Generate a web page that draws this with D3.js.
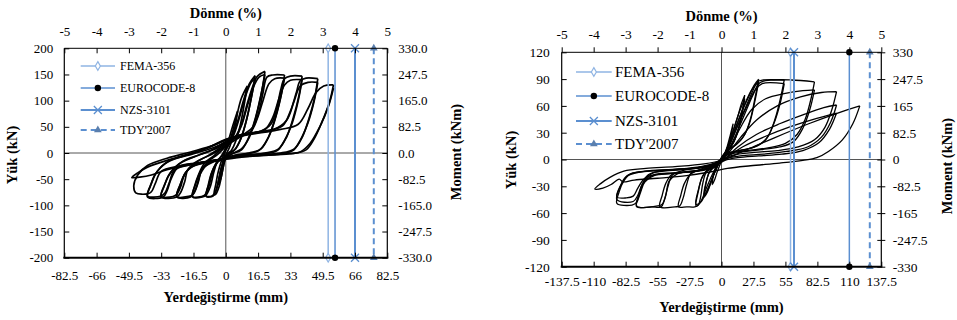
<!DOCTYPE html>
<html>
<head>
<meta charset="utf-8">
<script src="https://cdn.jsdelivr.net/npm/d3@7"></script>
<style>
  body { margin: 0; background: #fff; }
  svg, svg text { font-family: "Liberation Serif", "Times New Roman", serif; }
</style>
</head>
<body>
<svg id="chart" width="957" height="320"></svg>
<script>
// ---- data: displacement (mm), load (kN) ----
const driftTicks = [-5, -4, -3, -2, -1, 0, 1, 2, 3, 4, 5];

const dispTicksA = [-82.5, -66, -49.5, -33, -16.5, 0, 16.5, 33, 49.5, 66, 82.5];
const dispLabelsA = ["-82.5", "-66", "-49.5", "-33", "-16.5", "0", "16.5", "33", "49.5", "66", "82.5"];
const loadTicksA = [-200, -150, -100, -50, 0, 50, 100, 150, 200];
const momentTicks = [-330, -247.5, -165, -82.5, 0, 82.5, 165, 247.5, 330];
const momentLabelsA = ["-330.0", "-247.5", "-165.0", "-82.5", "0.0", "82.5", "165.0", "247.5", "330.0"];

const dispTicksB = [-137.5, -110, -82.5, -55, -27.5, 0, 27.5, 55, 82.5, 110, 137.5];
const dispLabelsB = ["-137.5", "-110", "-82.5", "-55", "-27.5", "0", "27.5", "55", "82.5", "110", "137.5"];
const loadTicksB = [-120, -90, -60, -30, 0, 30, 60, 90, 120];
const momentLabelsB = ["-330", "-247.5", "-165", "-82.5", "0", "82.5", "165", "247.5", "330"];

const limitNames = ["FEMA-356", "EUROCODE-8", "NZS-3101", "TDY'2007"];
const limitsA = [52.3, 55.8, 66, 75.6];     // mm
const limitsB = [59.4, 110, 62.4, 127.6];   // mm

// hysteresis loops, left specimen
const loopsA = [
  [[6,80],[5,55],[3.5,30],[2,12],[0.5,0],[-0.5,-12],[-1.5,-30],[-2.5,-48],[-4,-60],[-3,-42],[-2,-25],[-1,-8],[0,8],[1.5,25],[3,45],[4.5,63],[6,80]],
  [[11,128],[9.5,95],[7.5,55],[5,22],[3,6],[1,-2],[-0.5,-15],[-2,-40],[-3.5,-65],[-5,-78],[-6,-80],[-5,-58],[-4,-38],[-2.5,-18],[-1,-2],[1,14],[3,35],[5.5,70],[8,105],[11,128]],
  [[15,148],[13.5,115],[11,70],[8,30],[5,8],[2,0],[0,-8],[-2,-25],[-3.5,-50],[-5,-72],[-6.5,-82],[-10,-83],[-9,-62],[-7.5,-40],[-5,-20],[-2,-5],[0,10],[3,30],[6,60],[9,100],[12,132],[15,148]],
  [[15,142],[13,105],[10.5,62],[7.5,26],[4.5,6],[1.5,-2],[-0.5,-12],[-2.5,-32],[-4,-58],[-5.5,-76],[-7,-82],[-10,-82],[-8.5,-58],[-7,-36],[-4.5,-17],[-1.5,-2],[1,12],[4,34],[7,68],[10,108],[13,135],[15,142]],
  [[20,156],[18.5,120],[15.5,70],[12,30],[8,8],[4,0],[0,-8],[-4,-15],[-6,-35],[-8,-65],[-10,-80],[-12,-84],[-17,-84],[-16,-64],[-14,-42],[-11,-20],[-6,-5],[0,15],[5,32],[8,55],[11,95],[14,130],[16,146],[20,156]],
  [[20,150],[18,112],[15,65],[11.5,28],[8,6],[3,-2],[0,-10],[-4,-17],[-7,-40],[-9,-68],[-11,-81],[-17,-83],[-15.5,-60],[-13,-36],[-9,-16],[-4,-2],[1,16],[5,30],[8,52],[11,90],[14,125],[17,145],[20,150]],
  [[30,149],[28.5,115],[25.5,70],[22,32],[18,8],[12,0],[5,-4],[0,-10],[-7,-18],[-12,-30],[-14,-55],[-16,-75],[-18,-84],[-25,-84],[-23.5,-63],[-21,-40],[-16,-19],[-9,-5],[-2,12],[4,28],[10,38],[14,50],[17,80],[19,115],[21,145],[24,149],[30,149]],
  [[30,143],[28,105],[25,62],[21.5,28],[17,5],[10,-2],[3,-6],[-2,-12],[-9,-20],[-13,-40],[-15,-65],[-17,-80],[-19,-83],[-25,-83],[-23,-58],[-20,-35],[-14,-15],[-6,0],[1,16],[8,32],[13,42],[16,65],[19,100],[22,132],[25,142],[30,143]],
  [[39,147],[37.5,112],[34.5,68],[31,30],[27,8],[20,0],[10,-4],[2,-8],[-4,-13],[-12,-20],[-19,-30],[-21,-55],[-23,-75],[-25,-84],[-33,-84],[-31.5,-64],[-29,-42],[-24,-21],[-16,-7],[-7,6],[0,22],[8,35],[18,42],[23,55],[26,85],[28,120],[30,142],[33,147],[39,147]],
  [[39,140],[37,100],[34,58],[30,24],[26,4],[18,-2],[8,-5],[0,-10],[-8,-16],[-16,-24],[-21,-40],[-23,-64],[-25,-79],[-27,-83],[-33,-83],[-31,-58],[-28,-36],[-22,-16],[-13,-3],[-4,10],[2,24],[12,37],[20,45],[24,68],[27,102],[30,130],[33,139],[39,140]],
  [[47,142],[45.5,108],[42.5,66],[39,30],[35,8],[28,0],[16,-3],[5,-7],[-3,-12],[-14,-19],[-24,-26],[-28,-50],[-30,-72],[-32,-84],[-40,-84],[-38.5,-63],[-36,-40],[-31,-20],[-22,-6],[-12,6],[-2,22],[8,35],[20,42],[29,52],[33,80],[36,115],[38,138],[41,143],[47,142]],
  [[47,135],[45,97],[42,58],[38,24],[34,4],[26,-2],[14,-5],[4,-8],[-4,-13],[-16,-21],[-26,-32],[-29,-58],[-31,-76],[-33,-82],[-40,-82],[-38,-58],[-35,-35],[-29,-15],[-19,-2],[-9,10],[0,26],[12,37],[24,44],[31,62],[35,100],[38,128],[42,135],[47,135]],
  [[55,130],[53,98],[49,58],[45,26],[41,6],[34,-1],[22,-4],[10,-7],[0,-12],[-12,-18],[-24,-25],[-33,-35],[-36,-58],[-38,-74],[-40,-78],[-46,-76],[-47,-62],[-45,-42],[-40,-24],[-30,-10],[-18,2],[-6,15],[2,28],[15,37],[28,45],[37,55],[42,85],[46,115],[50,128],[55,130]],
  [[55,124],[52.5,90],[48,50],[43,18],[38,2],[28,-2],[15,-5],[4,-9],[-6,-14],[-18,-22],[-30,-32],[-38,-42],[-44,-46],[-48,-47],[-45,-38],[-40,-27],[-30,-14],[-18,-3],[-8,8],[0,20]]
];

// hysteresis loops, right specimen
const loopsB = [
  [[10,40],[8.5,28],[6.5,15],[4,7],[1.5,2],[0,-2],[-2,-8],[-4,-15],[-6,-23],[-8,-28],[-7,-18],[-5.5,-10],[-3,-5],[0,0],[2.5,6],[5,15],[7.5,27],[10,40]],
  [[20,72],[17.5,52],[14,32],[10,18],[5,10],[1,3],[-2,-4],[-5,-12],[-9,-25],[-12,-36],[-15,-42],[-13.5,-28],[-11,-16],[-7,-9],[-2,-4],[2,4],[6,16],[10,32],[14,48],[17,62],[20,72]],
  [[20,68],[17,46],[13,27],[9,16],[4,9],[0,2],[-3,-6],[-7,-18],[-11,-32],[-15,-40],[-13,-24],[-10,-13],[-6,-8],[-1,-2],[3,6],[7,20],[11,36],[15,52],[20,68]],
  [[32,90],[29,70],[25,46],[20,28],[13,17],[6,11],[1,4],[-3,-5],[-8,-17],[-13,-32],[-17,-45],[-20,-51],[-22,-52],[-20,-36],[-17,-21],[-12,-11],[-5,-5],[1,3],[6,16],[12,35],[18,55],[24,72],[28,83],[32,90]],
  [[32,87],[28.5,64],[24,40],[18,24],[11,15],[4,9],[0,2],[-4,-9],[-9,-24],[-14,-39],[-18,-48],[-22,-50],[-19.5,-32],[-16,-18],[-10,-10],[-3,-4],[2,5],[8,22],[14,42],[20,62],[26,78],[32,87]],
  [[54,89],[51,70],[46,45],[40,26],[32,16],[20,11],[8,8],[2,4],[-2,-4],[-8,-10],[-13,-14],[-16,-26],[-18,-42],[-20,-51],[-23,-53],[-30,-53],[-37,-53],[-35,-40],[-32,-27],[-27,-17],[-18,-11],[-8,-7],[0,0],[5,12],[12,32],[20,56],[27,77],[31,87],[36,89],[54,89]],
  [[54,85],[50.5,63],[45,40],[38,22],[28,14],[15,10],[5,7],[0,1],[-5,-7],[-15,-12],[-26,-15],[-30,-28],[-33,-43],[-36,-52],[-40,-53],[-53,-53],[-51,-40],[-48,-27],[-43,-17],[-32,-12],[-18,-9],[-6,-5],[1,2],[7,16],[14,38],[22,60],[29,78],[35,85],[54,85]],
  [[80,87],[77,68],[72,45],[65,28],[55,18],[40,13],[22,10],[8,7],[1,2],[-4,-6],[-16,-11],[-32,-14],[-42,-17],[-46,-30],[-49,-45],[-52,-53],[-60,-53],[-73,-53],[-71,-40],[-68,-27],[-63,-17],[-50,-13],[-30,-11],[-12,-8],[-2,-3],[4,6],[11,24],[19,48],[27,72],[33,86],[45,89],[60,89],[80,87]],
  [[80,78],[76,56],[70,35],[62,20],[50,14],[34,11],[16,8],[5,5],[-1,-2],[-9,-9],[-22,-13],[-38,-16],[-45,-24],[-48,-40],[-51,-50],[-55,-52],[-73,-52],[-70,-36],[-66,-23],[-59,-15],[-45,-12],[-25,-10],[-8,-6],[1,0],[8,14],[16,35],[26,56],[38,68],[55,74],[70,77],[80,78]],
  [[99,76],[95,56],[89,36],[80,22],[66,14],[48,10],[28,8],[10,5],[2,1],[-6,-8],[-22,-13],[-40,-15],[-58,-17],[-66,-25],[-70,-38],[-73,-48],[-77,-51],[-90,-49],[-88,-36],[-84,-24],[-78,-16],[-62,-13],[-40,-11],[-18,-8],[-4,-3],[5,6],[16,24],[30,44],[48,60],[68,70],[86,75],[99,76]],
  [[99,61],[94,42],[86,25],[74,14],[56,9],[36,6],[16,4],[4,1],[-4,-6],[-18,-12],[-38,-15],[-58,-18],[-68,-28],[-72,-40],[-76,-47],[-90,-45],[-87,-30],[-82,-19],[-70,-14],[-48,-12],[-25,-10],[-8,-6],[2,0],[14,14],[30,28],[50,40],[70,50],[88,58],[99,61]],
  [[99,52],[93,34],[84,19],[70,10],[52,6],[32,4],[14,2],[3,-1],[-6,-8],[-22,-13],[-45,-16],[-65,-20],[-72,-32],[-76,-41],[-82,-43],[-90,-42],[-86,-27],[-80,-17],[-66,-13],[-42,-11],[-20,-9],[-5,-5],[4,2],[18,14],[38,26],[60,37],[82,46],[99,52]],
  [[119,60],[113,40],[104,22],[92,9],[82,2],[70,-1],[50,-4],[25,-7],[5,-10],[-10,-14],[-30,-18],[-55,-21],[-75,-23],[-85,-25],[-88,-22],[-95,-28],[-102,-32],[-109,-33],[-104,-27],[-96,-20],[-84,-13],[-65,-10],[-40,-8],[-15,-5],[2,0],[20,10],[45,24],[75,40],[100,52],[119,60]]
];

// ---- drawing ----
const FONT = "'Liberation Serif', 'Times New Roman', serif";
const svg = d3.select("#chart");

const limitStyles = [
  { color: "#8fb4e3", width: 1.5, dash: null, marker: "diamond" },
  { color: "#5b8fd0", width: 1.5, dash: null, marker: "circle" },
  { color: "#5b8fd0", width: 2, dash: null, marker: "x" },
  { color: "#5b8fd0", width: 2, dash: "6,4", marker: "triangle" }
];

function drawMarker(g, type, cx, cy, st) {
  if (type === "diamond") {
    g.append("path").attr("d", d3.symbol(d3.symbolDiamond, 22)())
      .attr("transform", `translate(${cx},${cy})`)
      .attr("fill", "#fff").attr("stroke", st.color).attr("stroke-width", 1.2);
  } else if (type === "circle") {
    g.append("circle").attr("cx", cx).attr("cy", cy).attr("r", 3.2).attr("fill", "#000");
  } else if (type === "x") {
    g.append("path").attr("d", "M-4,-4L4,4M-4,4L4,-4")
      .attr("transform", `translate(${cx},${cy})`)
      .attr("stroke", st.color).attr("stroke-width", 1.3).attr("fill", "none");
  } else {
    g.append("path").attr("d", d3.symbol(d3.symbolTriangle, 26)())
      .attr("transform", `translate(${cx},${cy})`)
      .attr("fill", "#5a7fae");
  }
}

function addAxis(g, orient, scale, vals, labels, tin, tout, gap, fs, tr) {
  const ax = d3[orient](scale).tickValues(vals).tickFormat((d, i) => labels[i])
    .tickSize(0).tickSizeOuter(0).tickPadding(gap);
  const a = g.append("g").attr("transform", tr).call(ax);
  a.attr("font-family", null).attr("font-size", fs);
  a.select(".domain").remove();
  const k = (orient === "axisTop" || orient === "axisLeft") ? -1 : 1;
  const vert = (orient === "axisLeft" || orient === "axisRight");
  a.selectAll(".tick line")
    .attr(vert ? "x1" : "y1", -k * tin)
    .attr(vert ? "x2" : "y2", k * tout)
    .attr("stroke", "#000");
  a.selectAll("text").attr("fill", "#000").style("font-family", FONT);
}

function label(g, txt, x, y, fs, bold, rot) {
  const t = g.append("text").attr("text-anchor", "middle")
    .attr("font-size", fs).style("font-family", FONT).attr("fill", "#000")
    .attr("font-weight", bold ? "bold" : null).text(txt);
  if (rot) t.attr("transform", `translate(${x},${y}) rotate(-90)`);
  else t.attr("x", x).attr("y", y);
  return t;
}

function drawPanel(p) {
  const g = svg.append("g");
  const x = d3.scaleLinear().domain([-p.xMax, p.xMax]).range([p.x0, p.x1]);
  const xd = d3.scaleLinear().domain([-5, 5]).range([p.x0, p.x1]);
  const y = d3.scaleLinear().domain([-p.yMax, p.yMax]).range([p.y1, p.y0]);
  const ym = d3.scaleLinear().domain([-330, 330]).range([p.y1, p.y0]);

  // zero lines
  g.append("line").attr("x1", x(0)).attr("x2", x(0)).attr("y1", p.y0).attr("y2", p.y1)
    .attr("stroke", "#555").attr("stroke-width", 1);
  g.append("line").attr("x1", p.x0).attr("x2", p.x1).attr("y1", y(0)).attr("y2", y(0))
    .attr("stroke", "#555").attr("stroke-width", 1);

  // loops
  const line = d3.line().x(d => x(d[0])).y(d => y(d[1])).curve(d3.curveCatmullRom.alpha(0.5));
  g.selectAll("path.loop").data(p.loops).join("path").attr("class", "loop")
    .attr("d", line).attr("fill", "none").attr("stroke", "#000")
    .attr("stroke-width", p.loopW).attr("stroke-linejoin", "round");

  // limit lines
  p.limits.forEach((mm, i) => {
    const st = limitStyles[i];
    const lx = x(mm);
    g.append("line").attr("x1", lx).attr("x2", lx).attr("y1", p.y0).attr("y2", p.y1)
      .attr("stroke", st.color).attr("stroke-width", st.width)
      .attr("stroke-dasharray", st.dash);
    drawMarker(g, st.marker, lx, p.y0, st);
    drawMarker(g, st.marker, lx, p.y1, st);
  });

  // frame
  const fr = g.append("g").attr("stroke", "#000");
  fr.append("line").attr("x1", p.x0).attr("x2", p.x1).attr("y1", p.y0).attr("y2", p.y0).attr("stroke-width", 1);
  fr.append("line").attr("x1", p.x0).attr("x2", p.x0).attr("y1", p.y0).attr("y2", p.y1).attr("stroke-width", 1.2);
  fr.append("line").attr("x1", p.x1).attr("x2", p.x1).attr("y1", p.y0).attr("y2", p.y1).attr("stroke-width", 1.2);
  fr.append("line").attr("x1", p.x0 - 1).attr("x2", p.x1 + 1).attr("y1", p.y1).attr("y2", p.y1).attr("stroke-width", 2);

  // axes
  addAxis(g, "axisBottom", x, p.xTicks, p.xLabels, p.tk.b[0], p.tk.b[1], p.gap.b, p.fs, `translate(0,${p.y1})`);
  addAxis(g, "axisTop", xd, driftTicks, driftTicks.map(String), p.tk.t[0], p.tk.t[1], p.gap.t, p.fs, `translate(0,${p.y0})`);
  addAxis(g, "axisLeft", y, p.yTicks, p.yTicks.map(String), p.tk.l[0], p.tk.l[1], p.gap.l, p.fs, `translate(${p.x0},0)`);
  addAxis(g, "axisRight", ym, momentTicks, p.mLabels, p.tk.r[0], p.tk.r[1], p.gap.r, p.fs, `translate(${p.x1},0)`);

  // titles
  const cx = (p.x0 + p.x1) / 2;
  label(g, "Dönme (%)", cx, p.topTitleY, 14.5, true, false);
  label(g, "Yerdeğiştirme (mm)", cx, p.botTitleY, 14.5, true, false);
  label(g, "Yük (kN)", p.yTitleX, p.yTitleY, 14.5, true, true);
  label(g, "Moment (kNm)", p.mTitleX, p.mTitleY, 14.5, true, true);

  // legend
  limitNames.forEach((name, i) => {
    const st = limitStyles[i];
    const ly = p.leg.y[i];
    g.append("line").attr("x1", p.leg.x0).attr("x2", p.leg.x1).attr("y1", ly).attr("y2", ly)
      .attr("stroke", st.color).attr("stroke-width", st.width).attr("stroke-dasharray", st.dash);
    drawMarker(g, st.marker, (p.leg.x0 + p.leg.x1) / 2, ly, st);
    g.append("text").attr("x", p.leg.tx).attr("y", ly).attr("dy", "0.35em")
      .attr("font-size", p.leg.fs).style("font-family", FONT).text(name);
  });
}

drawPanel({
  x0: 64.3, x1: 387.3, y0: 48.3, y1: 257.7,
  xMax: 82.5, yMax: 200,
  xTicks: dispTicksA, xLabels: dispLabelsA, yTicks: loadTicksA, mLabels: momentLabelsA,
  loops: loopsA, limits: limitsA, loopW: 1.7, fs: 13,
  tk: { b: [5, 0], t: [5, 0], l: [5, 0], r: [5, 0] },
  gap: { b: 12.8, t: 12, l: 11, r: 11 },
  topTitleY: 18, botTitleY: 302, yTitleX: 17, yTitleY: 155, mTitleX: 461, mTitleY: 152,
  leg: { x0: 80.7, x1: 115, tx: 120, fs: 12, y: [66, 88, 110, 130] }
});

drawPanel({
  x0: 561.7, x1: 881.3, y0: 52.3, y1: 266.7,
  xMax: 137.5, yMax: 120,
  xTicks: dispTicksB, xLabels: dispLabelsB, yTicks: loadTicksB, mLabels: momentLabelsB,
  loops: loopsB, limits: limitsB, loopW: 1.3, fs: 13.5,
  tk: { b: [5, 0], t: [0, 5], l: [5, 0], r: [4, 4] },
  gap: { b: 9.7, t: 13.3, l: 12, r: 11.4 },
  topTitleY: 21, botTitleY: 312, yTitleX: 516, yTitleY: 160, mTitleX: 952, mTitleY: 166,
  leg: { x0: 576, x1: 611.7, tx: 615, fs: 15, y: [72, 96, 121, 144] }
});
</script>
</body>
</html>
